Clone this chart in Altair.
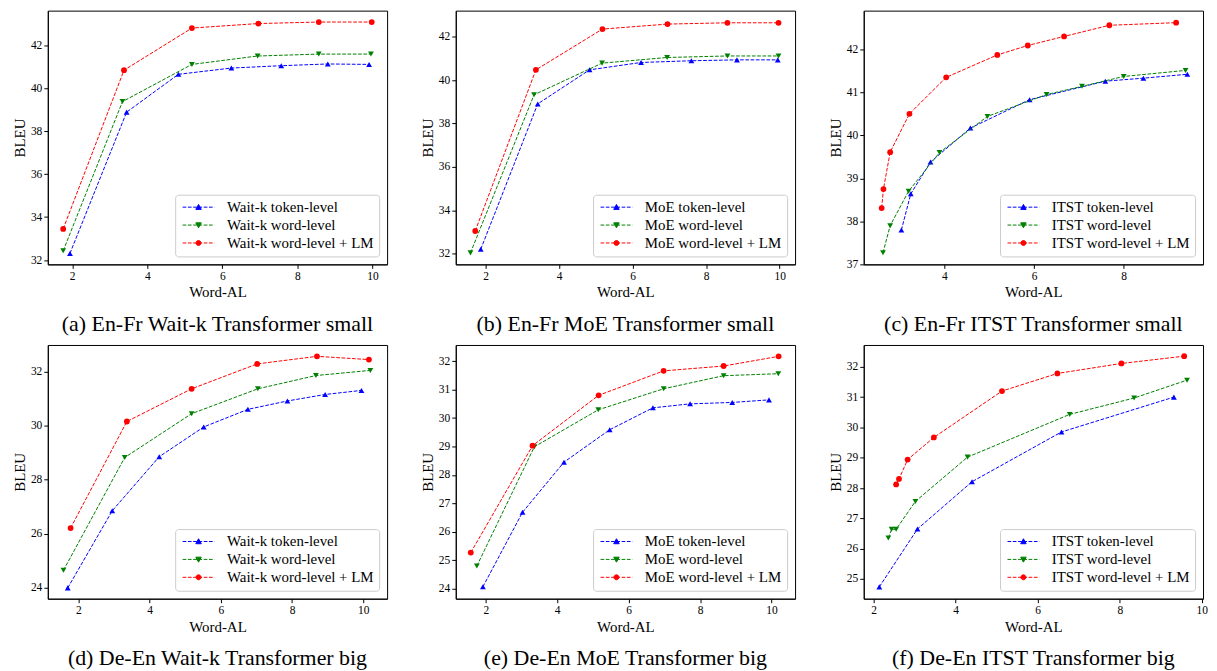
import altair as alt
import pandas as pd

# ---------------- data ----------------
a_tok_x = [1.94, 3.45, 4.83, 6.24, 7.57, 8.81, 9.91]
a_tok_y = [32.31, 38.88, 40.64, 40.93, 41.04, 41.12, 41.10]
a_word_x = [1.76, 3.34, 5.19, 6.94, 8.57, 9.96]
a_word_y = [32.43, 39.37, 41.10, 41.49, 41.58, 41.58]
a_lm_x = [1.76, 3.38, 5.19, 6.96, 8.57, 9.98]
a_lm_y = [33.45, 40.83, 42.79, 43.00, 43.07, 43.07]

b_tok_x = [1.87, 3.42, 4.83, 6.23, 7.60, 8.84, 9.95]
b_tok_y = [32.20, 38.90, 40.47, 40.81, 40.89, 40.93, 40.93]
b_word_x = [1.59, 3.32, 5.17, 6.94, 8.58, 9.97]
b_word_y = [32.03, 39.32, 40.78, 41.04, 41.11, 41.11]
b_lm_x = [1.72, 3.37, 5.18, 6.95, 8.58, 9.97]
b_lm_y = [33.04, 40.47, 42.35, 42.58, 42.64, 42.64]

c_tok_x = [3.04, 3.25, 3.69, 4.58, 5.90, 7.59, 8.44, 9.42]
c_tok_y = [37.80, 38.64, 39.38, 40.17, 40.83, 41.26, 41.33, 41.42]
c_word_x = [2.63, 2.79, 3.20, 3.89, 4.96, 6.28, 7.07, 8.00, 9.38]
c_word_y = [37.27, 37.90, 38.70, 39.60, 40.44, 40.95, 41.14, 41.37, 41.51]
c_lm_x = [2.60, 2.64, 2.79, 3.22, 4.04, 5.18, 5.86, 6.67, 7.68, 9.17]
c_lm_y = [38.31, 38.75, 39.61, 40.50, 41.35, 41.87, 42.09, 42.30, 42.56, 42.62]

d_tok_x = [1.70, 2.95, 4.27, 5.52, 6.76, 7.87, 8.93, 9.95]
d_tok_y = [24.00, 26.85, 28.85, 29.95, 30.60, 30.91, 31.15, 31.30]
d_word_x = [1.58, 3.30, 5.18, 7.04, 8.67, 10.20]
d_word_y = [24.65, 28.82, 30.44, 31.36, 31.85, 32.04]
d_lm_x = [1.78, 3.36, 5.18, 7.02, 8.70, 10.16]
d_lm_y = [26.21, 30.15, 31.36, 32.28, 32.56, 32.44]

e_tok_x = [1.92, 3.03, 4.19, 5.47, 6.68, 7.72, 8.90, 9.93]
e_tok_y = [24.07, 26.69, 28.45, 29.59, 30.36, 30.50, 30.55, 30.64]
e_word_x = [1.75, 3.36, 5.15, 6.98, 8.66, 10.19]
e_word_y = [24.80, 28.99, 30.29, 31.03, 31.49, 31.56]
e_lm_x = [1.58, 3.31, 5.16, 6.98, 8.66, 10.20]
e_lm_y = [25.27, 29.03, 30.80, 31.66, 31.83, 32.17]

f_tok_x = [2.14, 3.07, 4.40, 6.58, 9.32]
f_tok_y = [24.74, 26.65, 28.21, 29.85, 31.00]
f_word_x = [2.36, 2.44, 2.55, 3.02, 4.29, 6.78, 8.35, 9.64]
f_word_y = [26.35, 26.64, 26.64, 27.56, 29.02, 30.43, 30.97, 31.56]
f_lm_x = [2.55, 2.62, 2.83, 3.47, 5.13, 6.48, 8.04, 9.57]
f_lm_y = [28.12, 28.30, 28.94, 29.67, 31.20, 31.78, 32.11, 32.35]

captions = [
    "(a) En-Fr Wait-k Transformer small",
    "(b) En-Fr MoE Transformer small",
    "(c) En-Fr ITST Transformer small",
    "(d) De-En Wait-k Transformer big",
    "(e) De-En MoE Transformer big",
    "(f) De-En ITST Transformer big",
]
prefixes = ["Wait-k", "MoE", "ITST", "Wait-k", "MoE", "ITST"]
suffixes = [" token-level", " word-level", " word-level + LM"]

# ---------------- styling ----------------
COLORS = ["#0000ff", "#008000", "#ff0000"]
SHAPES = ["triangle-up", "triangle-down", "circle"]
FONT = "Liberation Serif"
W, H = 341, 255


def dashed(x0, x1, dash=0.74, gap=0.32):
    segs, x = [], x0
    while x < x1:
        e = min(x + dash, x1)
        segs.append(f"M{x:.2f},0L{e:.2f},0")
        x = e + gap
    return "".join(segs)


cx = 2.2
line_path = dashed(-1.0, 5.4)
p_up = line_path + f"M{cx-0.55:.2f},0.45L{cx+0.55:.2f},0.45L{cx:.2f},-0.55Z"
p_down = line_path + f"M{cx-0.55:.2f},-0.45L{cx+0.55:.2f},-0.45L{cx:.2f},0.55Z"
p_circ = line_path + (f"M{cx-0.5:.2f},0A0.5,0.5 0 1,0 {cx+0.5:.2f},0"
                      f"A0.5,0.5 0 1,0 {cx-0.5:.2f},0Z")
LEGEND_SHAPES = [p_up, p_down, p_circ]


def panel(idx, series, xdom, ydom, xticks, yticks):
    names = [prefixes[idx] + s for s in suffixes]
    rows = []
    for name, (xs, ys) in zip(names, series):
        for i, (xv, yv) in enumerate(zip(xs, ys)):
            rows.append({"series": name, "x": xv, "y": yv, "i": i})
    df = pd.DataFrame(rows)

    x = alt.X("x:Q", title="Word-AL",
              scale=alt.Scale(domain=xdom, nice=False, zero=False),
              axis=alt.Axis(values=xticks, format="d"))
    y = alt.Y("y:Q", title="BLEU",
              scale=alt.Scale(domain=ydom, nice=False, zero=False),
              axis=alt.Axis(values=yticks, format="d"))
    layers = []
    for k in range(3):
        base = alt.Chart(df).transform_filter(alt.datum.series == names[k])
        layers.append(base.mark_line(color=COLORS[k], strokeDash=[3.7, 1.6],
                                     strokeWidth=1).encode(x=x, y=y, order="i:Q"))
        layers.append(base.mark_point(shape=SHAPES[k], filled=True, opacity=1,
                                      size=34, color=COLORS[k]).encode(x=x, y=y))
    lg = alt.Legend(title=None, orient="bottom-right", offset=8)
    layers.append(
        alt.Chart(df).transform_filter("false").mark_point(
            filled=True, opacity=1).encode(
            x=x, y=y,
            fill=alt.Fill("series:N", scale=alt.Scale(domain=names, range=COLORS),
                          legend=lg),
            stroke=alt.Stroke("series:N",
                              scale=alt.Scale(domain=names, range=COLORS),
                              legend=lg),
            shape=alt.Shape("series:N",
                            scale=alt.Scale(domain=names, range=LEGEND_SHAPES),
                            legend=lg)))
    return alt.layer(*layers).properties(
        width=W, height=H,
        title=alt.TitleParams(captions[idx], orient="bottom", fontSize=22,
                              font=FONT, fontWeight="normal", color="black",
                              offset=14))


pa = panel(0, [(a_tok_x, a_tok_y), (a_word_x, a_word_y), (a_lm_x, a_lm_y)],
           [1.35, 10.39], [31.8, 43.6], [2, 4, 6, 8, 10], [32, 34, 36, 38, 40, 42])
pb = panel(1, [(b_tok_x, b_tok_y), (b_word_x, b_word_y), (b_lm_x, b_lm_y)],
           [1.19, 10.42], [31.5, 43.2], [2, 4, 6, 8, 10], [32, 34, 36, 38, 40, 42])
pc = panel(2, [(c_tok_x, c_tok_y), (c_word_x, c_word_y), (c_lm_x, c_lm_y)],
           [2.2, 9.77], [37.0, 42.9], [4, 6, 8], [37, 38, 39, 40, 41, 42])
pd_ = panel(3, [(d_tok_x, d_tok_y), (d_word_x, d_word_y), (d_lm_x, d_lm_y)],
            [1.14, 10.67], [23.6, 32.98], [2, 4, 6, 8, 10], [24, 26, 28, 30, 32])
pe = panel(4, [(e_tok_x, e_tok_y), (e_word_x, e_word_y), (e_lm_x, e_lm_y)],
           [1.16, 10.66], [23.65, 32.57], [2, 4, 6, 8, 10],
           [24, 25, 26, 27, 28, 29, 30, 31, 32])
pf = panel(5, [(f_tok_x, f_tok_y), (f_word_x, f_word_y), (f_lm_x, f_lm_y)],
           [1.76, 10.03], [24.35, 32.72], [2, 4, 6, 8, 10],
           [25, 26, 27, 28, 29, 30, 31, 32])

chart = alt.concat(pa, pb, pc, pd_, pe, pf, columns=3,
                   spacing={"row": 81, "column": 69}, bounds="flush").resolve_scale(
    fill="independent", stroke="independent", shape="independent"
).resolve_legend(
    fill="independent", stroke="independent", shape="independent"
).properties(
    padding={"left": 4, "top": 0, "right": 0, "bottom": 0},
    background="white",
).configure_view(
    stroke="black", strokeWidth=1
).configure_axis(
    grid=False, domainColor="black", domainWidth=1, tickColor="black",
    tickSize=4, tickWidth=1, labelColor="black", labelFont=FONT,
    labelFontSize=11.5, labelPadding=2, titleFont=FONT, titleFontSize=15,
    titleFontWeight="normal", titleColor="black", titlePadding=3,
).configure_legend(
    labelFont=FONT, labelFontSize=15, labelColor="black", labelOffset=32,
    strokeColor="#cccccc", fillColor="white", cornerRadius=3, padding=5,
    rowPadding=2, symbolSize=100, symbolStrokeWidth=1,
)

chart.save("out.html", embed_options={"renderer": "svg", "actions": False})
